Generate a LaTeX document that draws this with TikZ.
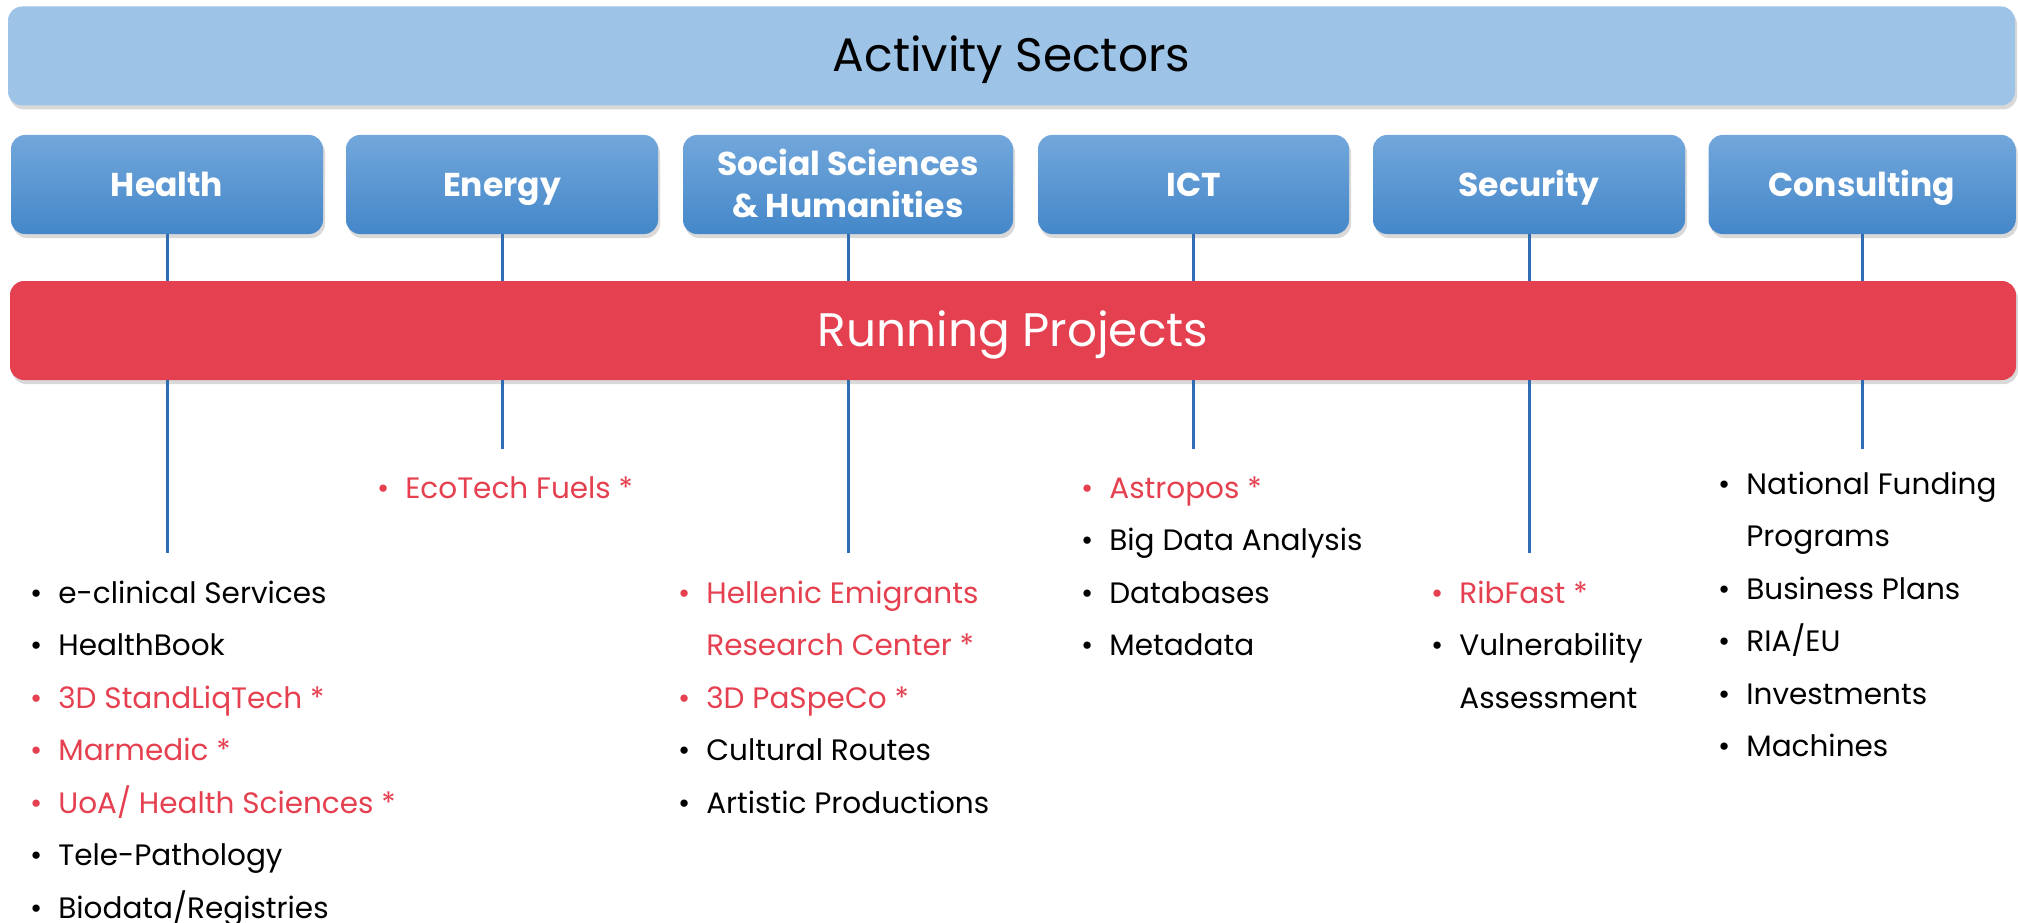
\documentclass[tikz,border=0pt]{standalone}
\usepackage{fontspec}
\setmainfont{Poppins}
\usetikzlibrary{positioning,shadows}
\definecolor{sectblue}{HTML}{9DC3E6}
\definecolor{boxtop}{HTML}{72A7DB}
\definecolor{boxbot}{HTML}{4487C9}
\definecolor{runred}{HTML}{E5404F}
\definecolor{linkblue}{HTML}{2F6DB3}
\newcommand{\blkitem}[1]{\textbullet & #1\\}
\newcommand{\reditem}[1]{\textcolor{runred}{\textbullet} & \textcolor{runred}{#1}\\}
\newcommand{\moreline}[1]{ & #1\\}
\tikzset{
  bar/.style     = { rounded corners=14pt, inner sep=0pt, minimum height=99pt,
    text height=32pt, text depth=0pt,
    drop shadow={shadow xshift=2pt, shadow yshift=-4pt, opacity=0.3} },
  sectorbar/.style = { bar, fill=sectblue, minimum width=2007pt,
    font=\fontsize{47}{56}\selectfont },
  runbar/.style  = { bar, fill=runred, text=white, minimum width=2006pt,
    font=\fontsize{47}{56}\selectfont },
  sector/.style  = { rounded corners=14pt, top color=boxtop, bottom color=boxbot,
    text=white, minimum width=312pt, minimum height=99pt, inner sep=0pt,
    text height=23.5pt, text depth=0pt,
    align=center, font=\bfseries\fontsize{33}{42}\selectfont,
    drop shadow={shadow xshift=2pt, shadow yshift=-4pt, opacity=0.3} },
  link/.style    = { draw=linkblue, line width=3pt },
  plist/.style   = { anchor=north west, inner sep=0pt,
    font=\fontsize{29.5}{52.5}\selectfont }
}

\begin{document}
\begin{tikzpicture}[x=1pt,y=-1pt,node distance=335pt,on grid]
    \useasboundingbox (0,0) rectangle (2018,923);
    \node[sectorbar] (sectors) at (1011.5,56) {Activity Sectors};

    \node[sector] (health) at (167,184.5) {Health};
    \node[sector, right=335pt of health] (energy) {Energy};
    \node[sector, right=346pt of energy, minimum width=330pt, text height=65pt] (social) {Social Sciences\\\& Humanities};
    \node[sector, right=345.5pt of social, minimum width=311pt] (ict) {ICT};
    \node[sector, right=335.5pt of ict] (security) {Security};
    \node[sector, right=333pt of security, minimum width=307pt] (consult) {Consulting};

    % links above the running projects bar
    \coordinate (runtop) at (0,281);
    \path[link] (health.south) edge (health.south |- runtop);
    \path[link] (energy.south) edge (energy.south |- runtop);
    \path[link] (social.south) edge (social.south |- runtop);
    \path[link] (ict.south) edge (ict.south |- runtop);
    \path[link] (security.south) edge (security.south |- runtop);
    \path[link] (consult.south) edge (consult.south |- runtop);

    \node[runbar] (projects) at (1013,330.5) {Running Projects};

    % links below the bar
    \coordinate (healthend) at (health |- 0,553);
    \coordinate (energyend) at (energy |- 0,449);
    \coordinate (socialend) at (social |- 0,553);
    \coordinate (ictend) at (ict |- 0,449);
    \coordinate (securityend) at (security |- 0,553);
    \coordinate (consultend) at (consult |- 0,449);
    \path[link] (health |- projects.south) edge (healthend);
    \path[link] (energy |- projects.south) edge (energyend);
    \path[link] (social |- projects.south) edge (socialend);
    \path[link] (ict |- projects.south) edge (ictend);
    \path[link] (security |- projects.south) edge (securityend);
    \path[link] (consult |- projects.south) edge (consultend);

    \node[plist] (healthlist) at (30,566.25) {%
      \begin{tabular}{@{}l@{\hspace{16pt}}l@{}}
        \blkitem{e-clinical Services}
        \blkitem{HealthBook}
        \reditem{3D StandLiqTech *}
        \reditem{Marmedic *}
        \reditem{UoA/ Health Sciences *}
        \blkitem{Tele-Pathology}
        \blkitem{Biodata/Registries}
      \end{tabular}};
    \node[plist] (energylist) at (377,461.25) {%
      \begin{tabular}{@{}l@{\hspace{16pt}}l@{}}
        \reditem{EcoTech Fuels *}
      \end{tabular}};
    \node[plist] (sociallist) at (678,566.25) {%
      \begin{tabular}{@{}l@{\hspace{16pt}}l@{}}
        \reditem{Hellenic Emigrants}
        \moreline{\textcolor{runred}{Research Center *}}
        \reditem{3D PaSpeCo *}
        \blkitem{Cultural Routes}
        \blkitem{Artistic Productions}
      \end{tabular}};
    \node[plist] (ictlist) at (1081,461.25) {%
      \begin{tabular}{@{}l@{\hspace{16pt}}l@{}}
        \reditem{Astropos *}
        \blkitem{Big Data Analysis}
        \blkitem{Databases}
        \blkitem{Metadata}
      \end{tabular}};
    \node[plist] (securitylist) at (1431,566.25) {%
      \begin{tabular}{@{}l@{\hspace{16pt}}l@{}}
        \reditem{RibFast *}
        \blkitem{Vulnerability}
        \moreline{Assessment}
      \end{tabular}};
    \node[plist] (consultlist) at (1718,457.25) {%
      \begin{tabular}{@{}l@{\hspace{16pt}}l@{}}
        \blkitem{National Funding}
        \moreline{Programs}
        \blkitem{Business Plans}
        \blkitem{RIA/EU}
        \blkitem{Investments}
        \blkitem{Machines}
      \end{tabular}};
\end{tikzpicture}
\end{document}
